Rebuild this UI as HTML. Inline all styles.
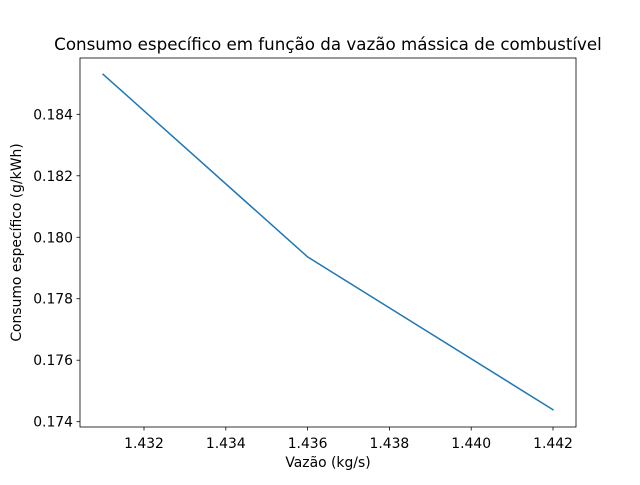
<!DOCTYPE html>
<html><head><meta charset="utf-8"><style>
body{margin:0;background:#fff;}
svg text{font-family:"DejaVu Sans","Liberation Sans",sans-serif;fill:#000;}
</style></head><body>
<svg id="chart" width="640" height="480" viewBox="0 0 640 480">
<rect width="640" height="480" fill="#fff"/>
<text x="328" y="50" font-size="16.7" text-anchor="middle">Consumo específico em função da vazão mássica de combustível</text>
<g id="xticks"></g>
<g id="yticks"></g>
<path id="line" fill="none" stroke="#1f77b4" stroke-width="1.5" stroke-linecap="square"/>
<rect x="80" y="58" width="496" height="369" fill="none" stroke="#000" stroke-width="0.8"/>
<text x="328" y="467" font-size="13.9" text-anchor="middle">Vazão (kg/s)</text>
<text transform="translate(21,242.5) rotate(-90)" font-size="13.9" text-anchor="middle">Consumo específico (g/kWh)</text>
</svg>
<script>
const xValues=[1.431,1.436,1.442];
const yValues=[0.18530,0.17936,0.17439];
const xTicks=[1.432,1.434,1.436,1.438,1.440,1.442];
const yTicks=[0.174,0.176,0.178,0.180,0.182,0.184];
const NS='http://www.w3.org/2000/svg';
function sx(v){return 144+(v-1.432)*40900;}
function sy(v){return 114.3+(0.184-v)*30740;}
function mk(t,a){const e=document.createElementNS(NS,t);for(const k in a)e.setAttribute(k,a[k]);return e;}
const xg=document.getElementById('xticks'),yg=document.getElementById('yticks');
xTicks.forEach(v=>{const x=sx(v);
 const l=mk('line',{x1:x,x2:x,y1:427,y2:430.5,stroke:'#000','stroke-width':0.8});
 
 
 xg.appendChild(l);
 const t=mk('text',{x:x,y:448,'font-size':13.9,'text-anchor':'middle'});t.textContent=v.toFixed(3);
 
 
 xg.appendChild(t);});
yTicks.forEach(v=>{const y=sy(v);
 const l=mk('line',{x1:76.5,x2:80,y1:y,y2:y,stroke:'#000','stroke-width':0.8});
 
 
 yg.appendChild(l);
 const t=mk('text',{x:73,y:y+5,'font-size':13.9,'text-anchor':'end'});t.textContent=v.toFixed(3);
 
 
 yg.appendChild(t);});
document.getElementById('line').setAttribute('d',xValues.map((v,i)=>(i?'L':'M')+sx(v).toFixed(1)+','+sy(yValues[i]).toFixed(1)).join(' '));
</script>
</body></html>
